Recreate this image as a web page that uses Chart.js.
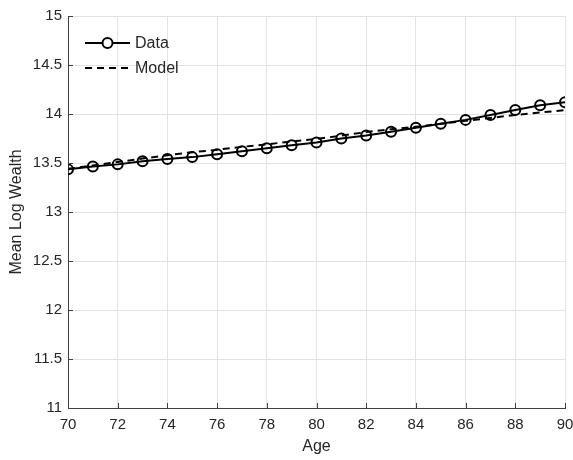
<!DOCTYPE html>
<html>
<head>
<meta charset="utf-8">
<script src="https://cdn.jsdelivr.net/npm/chart.js@4"></script>
<style>
  html, body { margin: 0; padding: 0; background: #fff; }
  #wrap { width: 573px; height: 460px; }
</style>
</head>
<body>
<div id="wrap"><canvas id="c" width="573" height="460"></canvas></div>
<script>
const ages = [70, 71, 72, 73, 74, 75, 76, 77, 78, 79, 80, 81, 82, 83, 84, 85, 86, 87, 88, 89, 90];
const dataValues = [13.435, 13.465, 13.486, 13.517, 13.54, 13.56, 13.59, 13.62, 13.65, 13.68, 13.71,
                    13.75, 13.78, 13.82, 13.86, 13.90, 13.94, 13.99, 14.04, 14.09, 14.12];
const modelValues = [13.44, 13.475, 13.51, 13.545, 13.58, 13.61, 13.635, 13.665, 13.69, 13.72, 13.745,
                     13.78, 13.815, 13.845, 13.87, 13.90, 13.93, 13.96, 13.99, 14.015, 14.04];
const xTicks = [70, 72, 74, 76, 78, 80, 82, 84, 86, 88, 90];
const yTicks = [11, 11.5, 12, 12.5, 13, 13.5, 14, 14.5, 15];
const seriesNames = ['Data', 'Model'];

const textColor = '#262626';
const axisColor = '#404040';
const font = { family: 'Liberation Sans, Arial, sans-serif', size: 15 };

// MATLAB style: short inward ticks + legend with marker in the middle of the line sample
const matlabBits = {
    id: 'matlabBits',
    afterDraw(chart) {
        const ctx = chart.ctx;
        const xs = chart.scales.x, ys = chart.scales.y;
        const area = chart.chartArea;
        ctx.save();
        ctx.strokeStyle = axisColor;
        ctx.lineWidth = 1;
        ctx.beginPath();
        xTicks.forEach(v => {
            const px = Math.round(xs.getPixelForValue(v)) + 0.5;
            ctx.moveTo(px, area.bottom);
            ctx.lineTo(px, area.bottom - 5);
        });
        yTicks.forEach(v => {
            const py = Math.round(ys.getPixelForValue(v)) + 0.5;
            ctx.moveTo(area.left, py);
            ctx.lineTo(area.left + 5, py);
        });
        ctx.stroke();

        // legend
        const ds = chart.data.datasets;
        const lx0 = 85, lx1 = 130;
        const rows = [43, 68];
        ds.forEach((d, i) => {
            const y = rows[i];
            ctx.strokeStyle = d.borderColor;
            ctx.lineWidth = d.borderWidth;
            ctx.setLineDash(d.borderDash || []);
            ctx.beginPath();
            ctx.moveTo(lx0, y);
            ctx.lineTo(lx1, y);
            ctx.stroke();
            ctx.setLineDash([]);
            if (d.pointRadius > 0) {
                ctx.beginPath();
                ctx.fillStyle = '#fff';
                ctx.lineWidth = d.pointBorderWidth;
                ctx.arc((lx0 + lx1) / 2, y, d.pointRadius, 0, Math.PI * 2);
                ctx.fill();
                ctx.stroke();
            }
            ctx.fillStyle = textColor;
            ctx.font = '16px ' + font.family;
            ctx.textBaseline = 'middle';
            ctx.textAlign = 'left';
            ctx.fillText(seriesNames[i], lx1 + 5, y + 1);
        });
        ctx.restore();
    }
};

new Chart(document.getElementById('c'), {
    type: 'line',
    data: {
        datasets: [
            {
                label: seriesNames[0],
                data: ages.map((a, i) => ({ x: a, y: dataValues[i] })),
                borderColor: '#000',
                borderWidth: 2,
                pointRadius: 5,
                pointBorderWidth: 2,
                pointBackgroundColor: 'rgba(255,255,255,0)',
                pointBorderColor: '#000',
                tension: 0,
                order: 1
            },
            {
                label: seriesNames[1],
                data: ages.map((a, i) => ({ x: a, y: modelValues[i] })),
                borderColor: '#000',
                borderWidth: 2,
                borderDash: [7, 5],
                pointRadius: 0,
                tension: 0,
                order: 2
            }
        ]
    },
    options: {
        responsive: false,
        animation: false,
        layout: { padding: { left: 0, right: 8, top: 16, bottom: 0 } },
        plugins: {
            legend: { display: false },
            tooltip: { enabled: false }
        },
        scales: {
            x: {
                type: 'linear',
                min: 70, max: 90,
                afterBuildTicks: s => { s.ticks = xTicks.map(v => ({ value: v })); },
                afterFit: s => { s.height = 52; s.paddingLeft = 0; s.paddingRight = 0; },
                grid: { color: '#e3e3e3', drawTicks: false },
                border: { color: axisColor, width: 1 },
                ticks: { color: textColor, font, padding: 8, maxRotation: 0, callback: v => String(v) },
                title: { display: true, text: 'Age', color: textColor, font: { family: font.family, size: 16 }, padding: { top: 0, bottom: 4 } }
            },
            y: {
                type: 'linear',
                min: 11, max: 15,
                afterBuildTicks: s => { s.ticks = yTicks.map(v => ({ value: v })); },
                afterFit: s => { s.width = 68; s.paddingTop = 0; s.paddingBottom = 0; },
                grid: { color: '#e3e3e3', drawTicks: false },
                border: { color: axisColor, width: 1 },
                ticks: { color: textColor, font, padding: 6, callback: v => String(v) },
                title: { display: true, text: 'Mean Log Wealth', color: textColor, font: { family: font.family, size: 16 }, padding: { top: 7, bottom: 0 } }
            }
        }
    },
    plugins: [matlabBits]
});
</script>
</body>
</html>
